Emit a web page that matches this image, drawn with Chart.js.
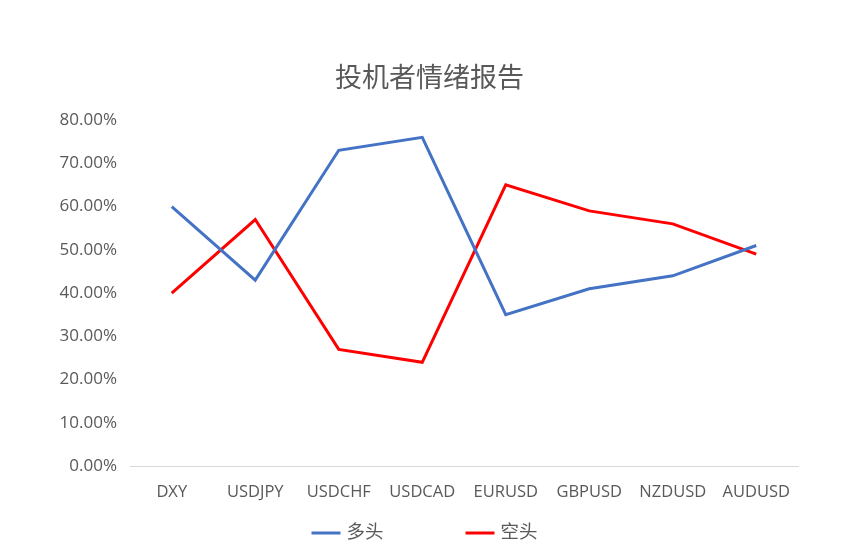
<!DOCTYPE html>
<html>
<head>
<meta charset="utf-8">
<script src="https://cdn.jsdelivr.net/npm/chart.js@4.4.1/dist/chart.umd.min.js"></script>
<style>
html,body{margin:0;padding:0;background:#fff;}
#wrap{width:859px;height:557px;}
</style>
</head>
<body>
<div id="wrap"><canvas id="c" width="859" height="557"></canvas></div>
<script>
const categories = ["DXY","USDJPY","USDCHF","USDCAD","EURUSD","GBPUSD","NZDUSD","AUDUSD"];
const longValues = [0.60,0.43,0.73,0.76,0.35,0.41,0.44,0.51];
const shortValues = [0.40,0.57,0.27,0.24,0.65,0.59,0.56,0.49];
const seriesNames = ["多头","空头"];
const titleText = "投机者情绪报告";

const FONT = "'Open Sans','Noto Sans CJK SC',sans-serif";
Chart.defaults.font.family = FONT;
Chart.defaults.color = "#595959";

// Title centred on the canvas and legend drawn from the datasets
const decorPlugin = {
  id: 'decor',
  afterDraw(chart) {
    const ctx = chart.ctx;
    ctx.save();
    ctx.fillStyle = '#595959';
    ctx.font = "27px " + FONT;
    ctx.textAlign = 'center';
    ctx.textBaseline = 'middle';
    ctx.fillText(chart.options.plugins.decor.title, chart.width/2, 79);

    const ds = chart.data.datasets;
    const lineW = 29, gapText = 6, itemGap = 82, y = 533;
    ctx.font = "18.5px " + FONT;
    const widths = ds.map(d => lineW + gapText + ctx.measureText(d.label).width);
    const total = widths.reduce((a,b)=>a+b,0) + itemGap*(ds.length-1);
    let x = (chart.width - total)/2 - 5;
    ds.forEach((d,i) => {
      ctx.strokeStyle = d.borderColor;
      ctx.lineWidth = 3;
      ctx.beginPath();
      ctx.moveTo(x, y); ctx.lineTo(x+lineW, y); ctx.stroke();
      ctx.fillStyle = '#595959';
      ctx.textAlign = 'left';
      ctx.fillText(d.label, x+lineW+gapText, y);
      x += widths[i] + itemGap;
    });
    ctx.restore();
  }
};

new Chart(document.getElementById('c'), {
  type: 'line',
  data: {
    labels: categories,
    datasets: [
      {label: seriesNames[0], data: longValues, borderColor: '#4472C4', backgroundColor: '#4472C4', borderWidth: 3, pointRadius: 0, tension: 0},
      {label: seriesNames[1], data: shortValues, borderColor: '#FF0000', backgroundColor: '#FF0000', borderWidth: 3, pointRadius: 0, tension: 0}
    ]
  },
  plugins: [decorPlugin],
  options: {
    responsive: false,
    animation: false,
    layout: {padding: {left: 0, right: 61, top: 120, bottom: 39}},
    plugins: {
      decor: {title: titleText},
      title: {display: false},
      legend: {display: false},
      tooltip: {enabled: false}
    },
    scales: {
      x: {
        offset: true,
        grid: {display: false, drawTicks: false},
        border: {display: true, color: '#d9d9d9', width: 1},
        ticks: {padding: 16, color: '#595959', font: {size: 16.5, family: FONT}, maxRotation: 0, autoSkip: false}
      },
      y: {
        min: 0, max: 0.8,
        grid: {display: false, drawTicks: false},
        border: {display: false},
        afterFit: function(s){ s.width = 130; },
        ticks: {stepSize: 0.1, padding: 13, color: '#595959', font: {size: 17, family: FONT},
          callback: v => (v*100).toFixed(2) + '%'}
      }
    }
  }
});
</script>
</body>
</html>
